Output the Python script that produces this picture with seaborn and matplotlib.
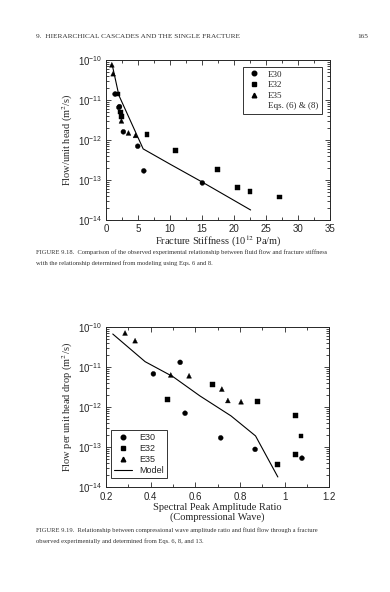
import numpy as np
import pandas as pd
import matplotlib
matplotlib.use("Agg")
import matplotlib.pyplot as plt
import seaborn as sns
from matplotlib.lines import Line2D

# --- datos figura 9.18 (rigidez de fractura) ---
e30_stiff = [1.4, 2.1, 2.0, 2.7, 4.95, 5.9, 15.05]
e30_flow = [1.4e-11, 6.8e-12, 6.5e-12, 1.6e-12, 7e-13, 1.7e-13, 8.5e-14]
e32_stiff = [1.8, 2.2, 2.4, 6.4, 10.8, 17.4, 20.6, 22.5, 27.1]
e32_flow = [1.4e-11, 5e-12, 3.8e-12, 1.35e-12, 5.6e-13, 1.85e-13, 6.4e-14, 5.1e-14, 3.8e-14]
e35_stiff = [0.9, 1.1, 2.4, 3.5, 4.6]
e35_flow = [7.5e-11, 4.5e-11, 3e-12, 1.5e-12, 1.3e-12]
eq_stiff = [1.0, 2.0, 5.8, 10, 15, 22.6]
eq_flow = [7e-11, 1.3e-11, 6e-13, 2.5e-13, 9e-14, 1.8e-14]

# --- datos figura 9.19 (razon de amplitud) ---
b30_ratio = [0.412, 0.532, 0.554, 0.714, 0.868, 1.078]
b30_flow = [6.7e-12, 1.3e-11, 7e-13, 1.7e-13, 8.8e-14, 5.3e-14]
b32_ratio = [0.475, 0.677, 0.879, 0.968, 1.048, 1.074, 1.048]
b32_flow = [1.55e-12, 3.7e-12, 1.4e-12, 3.7e-14, 6e-13, 1.9e-13, 6.6e-14]
b35_ratio = [0.285, 0.33, 0.49, 0.572, 0.719, 0.746, 0.805]
b35_flow = [7e-11, 4.5e-11, 6.3e-12, 6e-12, 2.8e-12, 1.45e-12, 1.35e-12]
model_ratio = [0.23, 0.375, 0.50, 0.62, 0.76, 0.87, 0.97]
model_flow = [6.6e-11, 1.35e-11, 5.7e-12, 1.9e-12, 6e-13, 1.9e-13, 1.8e-14]

sns.set_style("ticks")
plt.rcParams["font.family"] = ["Liberation Serif", "DejaVu Serif"]
plt.rcParams["mathtext.fontset"] = "stix"

markers = {"E30": "o", "E32": "s", "E35": "^"}


def make_df(groups):
    frames = []
    for name, xs, ys in groups:
        frames.append(pd.DataFrame({"x": xs, "y": ys, "sample": name}))
    return pd.concat(frames, ignore_index=True)


def style_axis(ax):
    ax.set_yscale("log")
    ax.set_ylim(1e-14, 1e-10)
    ax.tick_params(which="both", direction="in", top=True, right=True,
                   labelsize=7, width=0.6, pad=2.5)
    ax.tick_params(which="major", length=3.5)
    ax.tick_params(which="minor", length=2)
    for s in ax.spines.values():
        s.set_linewidth(0.7)
    for lab in ax.get_xticklabels() + ax.get_yticklabels():
        lab.set_family("Liberation Sans")


fig = plt.figure(figsize=(3.9, 5.92), dpi=100)

# --- grafico superior ---
ax1 = fig.add_axes([0.272, 0.628, 0.574, 0.271])
df1 = make_df([("E30", e30_stiff, e30_flow), ("E32", e32_stiff, e32_flow),
               ("E35", e35_stiff, e35_flow)])
sns.scatterplot(data=df1, x="x", y="y", style="sample", markers=markers,
                color="black", s=12, edgecolor="black", linewidth=0.3,
                legend=False, ax=ax1)
sns.lineplot(x=eq_stiff, y=eq_flow, color="black", linewidth=0.8, ax=ax1)
ax1.set_xlim(0, 35)
ax1.set_xticks([0, 5, 10, 15, 20, 25, 30, 35])
ax1.set_xticks(np.arange(0, 35, 2.5), minor=True)
style_axis(ax1)
ax1.set_xlabel("Fracture Stiffness (10$^{12}$ Pa/m)", fontsize=7.5, labelpad=0)
ax1.set_ylabel("Flow/unit head (m$^2$/s)", fontsize=7.5, labelpad=2)

h1 = [Line2D([], [], marker=markers[k], color="black", linestyle="none",
             markersize=3.3) for k in ["E30", "E32", "E35"]]
h1.append(Line2D([], [], color="white", linewidth=0.8))
leg1 = ax1.legend(h1, ["E30", "E32", "E35", "Eqs. (6) & (8)"], loc="upper right",
                  fontsize=6.5, frameon=True, fancybox=False, edgecolor="black",
                  handlelength=1.6, borderpad=0.4, labelspacing=0.25,
                  bbox_to_anchor=(0.985, 0.985))
leg1.get_frame().set_linewidth(0.7)

# --- grafico inferior ---
ax2 = fig.add_axes([0.272, 0.177, 0.572, 0.271])
df2 = make_df([("E30", b30_ratio, b30_flow), ("E32", b32_ratio, b32_flow),
               ("E35", b35_ratio, b35_flow)])
sns.scatterplot(data=df2, x="x", y="y", style="sample", markers=markers,
                color="black", s=12, edgecolor="black", linewidth=0.3,
                legend=False, ax=ax2)
sns.lineplot(x=model_ratio, y=model_flow, color="black", linewidth=0.8, ax=ax2)
ax2.set_xlim(0.2, 1.2)
ax2.set_xticks([0.2, 0.4, 0.6, 0.8, 1.0, 1.2])
ax2.set_xticklabels(["0.2", "0.4", "0.6", "0.8", "1", "1.2"])
ax2.set_xticks(np.arange(0.2, 1.2, 0.1), minor=True)
style_axis(ax2)
ax2.tick_params(axis="x", pad=3.5)
ax2.set_xlabel("Spectral Peak Amplitude Ratio\n(Compressional Wave)",
               fontsize=7.5, labelpad=1, linespacing=0.95)
ax2.set_ylabel("Flow per unit head drop (m$^2$/s)", fontsize=7.5, labelpad=2)

h2 = [Line2D([], [], marker=markers[k], color="black", linestyle="none",
             markersize=3.3) for k in ["E30", "E32", "E35"]]
h2.append(Line2D([], [], color="black", linewidth=0.8))
leg2 = ax2.legend(h2, ["E30", "E32", "E35", "Model"], loc="lower left",
                  prop={"family": "Liberation Sans", "size": 6.5},
                  frameon=True, fancybox=False, edgecolor="black",
                  handlelength=2.0, borderpad=0.35, labelspacing=0.2,
                  bbox_to_anchor=(0.0, 0.03))
leg2.get_frame().set_linewidth(0.7)

# --- encabezado y pies de figura ---
cap = dict(fontsize=4.7, color="#333333", va="center")
fig.text(0.092, 1 - 37 / 592, "9.  HIERARCHICAL CASCADES AND THE SINGLE FRACTURE",
         fontsize=5.2, color="#333333", va="center")
fig.text(0.915, 1 - 37 / 592, "165", fontsize=5.2, color="#333333", va="center")
fig.text(0.092, 1 - 252 / 592,
         "FIGURE 9.18.  Comparison of the observed experimental relationship between fluid flow and fracture stiffness",
         **cap)
fig.text(0.092, 1 - 263 / 592,
         "with the relationship determined from modeling using Eqs. 6 and 8.", **cap)
fig.text(0.092, 1 - 530 / 592,
         "FIGURE 9.19.  Relationship between compressional wave amplitude ratio and fluid flow through a fracture",
         **cap)
fig.text(0.092, 1 - 541 / 592,
         "observed experimentally and determined from Eqs. 6, 8, and 13.", **cap)

fig.savefig("out.png", dpi=100, facecolor="white")
